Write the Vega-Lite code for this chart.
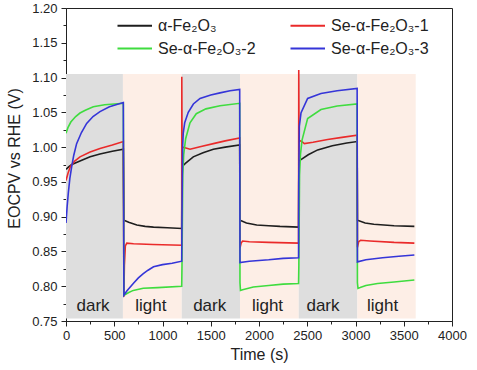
{
  "$schema": "https://vega.github.io/schema/vega-lite/v6.json",
  "width": 386,
  "height": 313,
  "autosize": {"type": "none"},
  "padding": {"left": 66, "top": 8, "right": 25, "bottom": 49},
  "background": "white",
  "config": {
    "font": "Liberation Sans",
    "view": {"stroke": "#222", "strokeWidth": 1},
    "axis": {"domainColor": "#222", "tickColor": "#222", "labelColor": "#222", "titleColor": "#222", "grid": false, "labelFontSize": 13, "titleFontSize": 16, "titleFontWeight": "normal", "domainWidth": 1, "tickWidth": 1, "labelOverlap": false, "labelBound": false}
  },
  "resolve": {"axis": {"x": "independent", "y": "independent"}},
  "datasets": {
    "shade": [
      {"start": 0, "end": 590, "kind": "dark"},
      {"start": 590, "end": 1200, "kind": "light"},
      {"start": 1200, "end": 1803, "kind": "dark"},
      {"start": 1803, "end": 2412, "kind": "light"},
      {"start": 2412, "end": 3019, "kind": "dark"},
      {"start": 3019, "end": 3624, "kind": "light"}
    ],
    "labels": [
      {"t": 280, "label": "dark"},
      {"t": 879, "label": "light"},
      {"t": 1489, "label": "dark"},
      {"t": 2088, "label": "light"},
      {"t": 2663, "label": "dark"},
      {"t": 3280, "label": "light"}
    ],
    "curves": [
      {"s": "α-Fe₂O₃", "t": 0, "v": 0.968}, {"s": "α-Fe₂O₃", "t": 30, "v": 0.972}, {"s": "α-Fe₂O₃", "t": 60, "v": 0.975}, {"s": "α-Fe₂O₃", "t": 145, "v": 0.980}, {"s": "α-Fe₂O₃", "t": 250, "v": 0.986}, {"s": "α-Fe₂O₃", "t": 352, "v": 0.990}, {"s": "α-Fe₂O₃", "t": 480, "v": 0.994}, {"s": "α-Fe₂O₃", "t": 594, "v": 0.997},
      {"s": "α-Fe₂O₃", "t": 600, "v": 0.895}, {"s": "α-Fe₂O₃", "t": 650, "v": 0.892}, {"s": "α-Fe₂O₃", "t": 734, "v": 0.888}, {"s": "α-Fe₂O₃", "t": 820, "v": 0.886}, {"s": "α-Fe₂O₃", "t": 907, "v": 0.885}, {"s": "α-Fe₂O₃", "t": 1050, "v": 0.884}, {"s": "α-Fe₂O₃", "t": 1199, "v": 0.883},
      {"s": "α-Fe₂O₃", "t": 1202, "v": 0.972}, {"s": "α-Fe₂O₃", "t": 1240, "v": 0.977}, {"s": "α-Fe₂O₃", "t": 1319, "v": 0.986}, {"s": "α-Fe₂O₃", "t": 1420, "v": 0.992}, {"s": "α-Fe₂O₃", "t": 1527, "v": 0.997}, {"s": "α-Fe₂O₃", "t": 1650, "v": 1.000}, {"s": "α-Fe₂O₃", "t": 1800, "v": 1.003},
      {"s": "α-Fe₂O₃", "t": 1803, "v": 0.895}, {"s": "α-Fe₂O₃", "t": 1870, "v": 0.891}, {"s": "α-Fe₂O₃", "t": 1976, "v": 0.888}, {"s": "α-Fe₂O₃", "t": 2100, "v": 0.887}, {"s": "α-Fe₂O₃", "t": 2217, "v": 0.886}, {"s": "α-Fe₂O₃", "t": 2410, "v": 0.885},
      {"s": "α-Fe₂O₃", "t": 2413, "v": 0.980}, {"s": "α-Fe₂O₃", "t": 2435, "v": 0.982}, {"s": "α-Fe₂O₃", "t": 2510, "v": 0.989}, {"s": "α-Fe₂O₃", "t": 2608, "v": 0.996}, {"s": "α-Fe₂O₃", "t": 2760, "v": 1.002}, {"s": "α-Fe₂O₃", "t": 2910, "v": 1.006}, {"s": "α-Fe₂O₃", "t": 3017, "v": 1.008},
      {"s": "α-Fe₂O₃", "t": 3020, "v": 0.895}, {"s": "α-Fe₂O₃", "t": 3100, "v": 0.891}, {"s": "α-Fe₂O₃", "t": 3190, "v": 0.889}, {"s": "α-Fe₂O₃", "t": 3400, "v": 0.887}, {"s": "α-Fe₂O₃", "t": 3610, "v": 0.886},

      {"s": "Se-α-Fe₂O₃-1", "t": 0, "v": 0.952}, {"s": "Se-α-Fe₂O₃-1", "t": 20, "v": 0.962}, {"s": "Se-α-Fe₂O₃-1", "t": 45, "v": 0.972}, {"s": "Se-α-Fe₂O₃-1", "t": 90, "v": 0.980}, {"s": "Se-α-Fe₂O₃-1", "t": 145, "v": 0.986}, {"s": "Se-α-Fe₂O₃-1", "t": 250, "v": 0.993}, {"s": "Se-α-Fe₂O₃-1", "t": 352, "v": 0.998}, {"s": "Se-α-Fe₂O₃-1", "t": 480, "v": 1.003}, {"s": "Se-α-Fe₂O₃-1", "t": 594, "v": 1.008},
      {"s": "Se-α-Fe₂O₃-1", "t": 600, "v": 0.785}, {"s": "Se-α-Fe₂O₃-1", "t": 605, "v": 0.830}, {"s": "Se-α-Fe₂O₃-1", "t": 615, "v": 0.858}, {"s": "Se-α-Fe₂O₃-1", "t": 630, "v": 0.862}, {"s": "Se-α-Fe₂O₃-1", "t": 700, "v": 0.861}, {"s": "Se-α-Fe₂O₃-1", "t": 900, "v": 0.860}, {"s": "Se-α-Fe₂O₃-1", "t": 1199, "v": 0.859},
      {"s": "Se-α-Fe₂O₃-1", "t": 1200, "v": 1.101}, {"s": "Se-α-Fe₂O₃-1", "t": 1203, "v": 1.000}, {"s": "Se-α-Fe₂O₃-1", "t": 1233, "v": 0.999}, {"s": "Se-α-Fe₂O₃-1", "t": 1285, "v": 0.997}, {"s": "Se-α-Fe₂O₃-1", "t": 1400, "v": 1.001}, {"s": "Se-α-Fe₂O₃-1", "t": 1527, "v": 1.005}, {"s": "Se-α-Fe₂O₃-1", "t": 1650, "v": 1.009}, {"s": "Se-α-Fe₂O₃-1", "t": 1800, "v": 1.013},
      {"s": "Se-α-Fe₂O₃-1", "t": 1803, "v": 0.855}, {"s": "Se-α-Fe₂O₃-1", "t": 1815, "v": 0.862}, {"s": "Se-α-Fe₂O₃-1", "t": 1830, "v": 0.865}, {"s": "Se-α-Fe₂O₃-1", "t": 1900, "v": 0.864}, {"s": "Se-α-Fe₂O₃-1", "t": 2100, "v": 0.863}, {"s": "Se-α-Fe₂O₃-1", "t": 2410, "v": 0.862},
      {"s": "Se-α-Fe₂O₃-1", "t": 2412, "v": 1.111}, {"s": "Se-α-Fe₂O₃-1", "t": 2415, "v": 1.010}, {"s": "Se-α-Fe₂O₃-1", "t": 2452, "v": 1.007}, {"s": "Se-α-Fe₂O₃-1", "t": 2470, "v": 1.005}, {"s": "Se-α-Fe₂O₃-1", "t": 2560, "v": 1.007}, {"s": "Se-α-Fe₂O₃-1", "t": 2711, "v": 1.011}, {"s": "Se-α-Fe₂O₃-1", "t": 2860, "v": 1.014}, {"s": "Se-α-Fe₂O₃-1", "t": 3017, "v": 1.017},
      {"s": "Se-α-Fe₂O₃-1", "t": 3020, "v": 0.856}, {"s": "Se-α-Fe₂O₃-1", "t": 3033, "v": 0.864}, {"s": "Se-α-Fe₂O₃-1", "t": 3053, "v": 0.866}, {"s": "Se-α-Fe₂O₃-1", "t": 3150, "v": 0.865}, {"s": "Se-α-Fe₂O₃-1", "t": 3400, "v": 0.863}, {"s": "Se-α-Fe₂O₃-1", "t": 3610, "v": 0.862},

      {"s": "Se-α-Fe₂O₃-2", "t": 0, "v": 1.020}, {"s": "Se-α-Fe₂O₃-2", "t": 20, "v": 1.028}, {"s": "Se-α-Fe₂O₃-2", "t": 50, "v": 1.036}, {"s": "Se-α-Fe₂O₃-2", "t": 100, "v": 1.044}, {"s": "Se-α-Fe₂O₃-2", "t": 145, "v": 1.049}, {"s": "Se-α-Fe₂O₃-2", "t": 200, "v": 1.053}, {"s": "Se-α-Fe₂O₃-2", "t": 283, "v": 1.058}, {"s": "Se-α-Fe₂O₃-2", "t": 400, "v": 1.061}, {"s": "Se-α-Fe₂O₃-2", "t": 594, "v": 1.063},
      {"s": "Se-α-Fe₂O₃-2", "t": 600, "v": 0.787}, {"s": "Se-α-Fe₂O₃-2", "t": 650, "v": 0.791}, {"s": "Se-α-Fe₂O₃-2", "t": 697, "v": 0.794}, {"s": "Se-α-Fe₂O₃-2", "t": 800, "v": 0.797}, {"s": "Se-α-Fe₂O₃-2", "t": 950, "v": 0.798}, {"s": "Se-α-Fe₂O₃-2", "t": 1199, "v": 0.800},
      {"s": "Se-α-Fe₂O₃-2", "t": 1202, "v": 0.830}, {"s": "Se-α-Fe₂O₃-2", "t": 1210, "v": 0.960}, {"s": "Se-α-Fe₂O₃-2", "t": 1220, "v": 0.990}, {"s": "Se-α-Fe₂O₃-2", "t": 1240, "v": 1.012}, {"s": "Se-α-Fe₂O₃-2", "t": 1285, "v": 1.035}, {"s": "Se-α-Fe₂O₃-2", "t": 1350, "v": 1.048}, {"s": "Se-α-Fe₂O₃-2", "t": 1450, "v": 1.055}, {"s": "Se-α-Fe₂O₃-2", "t": 1596, "v": 1.0595}, {"s": "Se-α-Fe₂O₃-2", "t": 1800, "v": 1.063},
      {"s": "Se-α-Fe₂O₃-2", "t": 1803, "v": 0.805}, {"s": "Se-α-Fe₂O₃-2", "t": 1808, "v": 0.794}, {"s": "Se-α-Fe₂O₃-2", "t": 1830, "v": 0.795}, {"s": "Se-α-Fe₂O₃-2", "t": 1941, "v": 0.799}, {"s": "Se-α-Fe₂O₃-2", "t": 2100, "v": 0.801}, {"s": "Se-α-Fe₂O₃-2", "t": 2250, "v": 0.803}, {"s": "Se-α-Fe₂O₃-2", "t": 2410, "v": 0.804},
      {"s": "Se-α-Fe₂O₃-2", "t": 2413, "v": 0.830}, {"s": "Se-α-Fe₂O₃-2", "t": 2420, "v": 0.960}, {"s": "Se-α-Fe₂O₃-2", "t": 2430, "v": 0.990}, {"s": "Se-α-Fe₂O₃-2", "t": 2446, "v": 1.010}, {"s": "Se-α-Fe₂O₃-2", "t": 2504, "v": 1.041}, {"s": "Se-α-Fe₂O₃-2", "t": 2642, "v": 1.054}, {"s": "Se-α-Fe₂O₃-2", "t": 2810, "v": 1.059}, {"s": "Se-α-Fe₂O₃-2", "t": 3017, "v": 1.062},
      {"s": "Se-α-Fe₂O₃-2", "t": 3020, "v": 0.805}, {"s": "Se-α-Fe₂O₃-2", "t": 3026, "v": 0.797}, {"s": "Se-α-Fe₂O₃-2", "t": 3048, "v": 0.798}, {"s": "Se-α-Fe₂O₃-2", "t": 3108, "v": 0.801}, {"s": "Se-α-Fe₂O₃-2", "t": 3228, "v": 0.804}, {"s": "Se-α-Fe₂O₃-2", "t": 3400, "v": 0.806}, {"s": "Se-α-Fe₂O₃-2", "t": 3610, "v": 0.809},

      {"s": "Se-α-Fe₂O₃-3", "t": 0, "v": 0.891}, {"s": "Se-α-Fe₂O₃-3", "t": 12, "v": 0.915}, {"s": "Se-α-Fe₂O₃-3", "t": 24, "v": 0.934}, {"s": "Se-α-Fe₂O₃-3", "t": 40, "v": 0.955}, {"s": "Se-α-Fe₂O₃-3", "t": 59, "v": 0.972}, {"s": "Se-α-Fe₂O₃-3", "t": 80, "v": 0.988}, {"s": "Se-α-Fe₂O₃-3", "t": 110, "v": 1.005}, {"s": "Se-α-Fe₂O₃-3", "t": 160, "v": 1.021}, {"s": "Se-α-Fe₂O₃-3", "t": 214, "v": 1.034}, {"s": "Se-α-Fe₂O₃-3", "t": 280, "v": 1.044}, {"s": "Se-α-Fe₂O₃-3", "t": 352, "v": 1.051}, {"s": "Se-α-Fe₂O₃-3", "t": 450, "v": 1.058}, {"s": "Se-α-Fe₂O₃-3", "t": 594, "v": 1.064},
      {"s": "Se-α-Fe₂O₃-3", "t": 600, "v": 0.787}, {"s": "Se-α-Fe₂O₃-3", "t": 630, "v": 0.793}, {"s": "Se-α-Fe₂O₃-3", "t": 697, "v": 0.804}, {"s": "Se-α-Fe₂O₃-3", "t": 750, "v": 0.812}, {"s": "Se-α-Fe₂O₃-3", "t": 801, "v": 0.818}, {"s": "Se-α-Fe₂O₃-3", "t": 850, "v": 0.823}, {"s": "Se-α-Fe₂O₃-3", "t": 907, "v": 0.828}, {"s": "Se-α-Fe₂O₃-3", "t": 1000, "v": 0.831}, {"s": "Se-α-Fe₂O₃-3", "t": 1100, "v": 0.833}, {"s": "Se-α-Fe₂O₃-3", "t": 1199, "v": 0.836},
      {"s": "Se-α-Fe₂O₃-3", "t": 1202, "v": 0.900}, {"s": "Se-α-Fe₂O₃-3", "t": 1208, "v": 1.000}, {"s": "Se-α-Fe₂O₃-3", "t": 1215, "v": 1.020}, {"s": "Se-α-Fe₂O₃-3", "t": 1230, "v": 1.035}, {"s": "Se-α-Fe₂O₃-3", "t": 1267, "v": 1.050}, {"s": "Se-α-Fe₂O₃-3", "t": 1320, "v": 1.062}, {"s": "Se-α-Fe₂O₃-3", "t": 1389, "v": 1.070}, {"s": "Se-α-Fe₂O₃-3", "t": 1500, "v": 1.075}, {"s": "Se-α-Fe₂O₃-3", "t": 1596, "v": 1.078}, {"s": "Se-α-Fe₂O₃-3", "t": 1700, "v": 1.081}, {"s": "Se-α-Fe₂O₃-3", "t": 1800, "v": 1.083},
      {"s": "Se-α-Fe₂O₃-3", "t": 1803, "v": 0.834}, {"s": "Se-α-Fe₂O₃-3", "t": 1900, "v": 0.836}, {"s": "Se-α-Fe₂O₃-3", "t": 2100, "v": 0.838}, {"s": "Se-α-Fe₂O₃-3", "t": 2250, "v": 0.840}, {"s": "Se-α-Fe₂O₃-3", "t": 2410, "v": 0.841},
      {"s": "Se-α-Fe₂O₃-3", "t": 2412, "v": 0.950}, {"s": "Se-α-Fe₂O₃-3", "t": 2418, "v": 1.030}, {"s": "Se-α-Fe₂O₃-3", "t": 2435, "v": 1.049}, {"s": "Se-α-Fe₂O₃-3", "t": 2504, "v": 1.070}, {"s": "Se-α-Fe₂O₃-3", "t": 2642, "v": 1.077}, {"s": "Se-α-Fe₂O₃-3", "t": 2810, "v": 1.081}, {"s": "Se-α-Fe₂O₃-3", "t": 3017, "v": 1.0845},
      {"s": "Se-α-Fe₂O₃-3", "t": 3020, "v": 0.835}, {"s": "Se-α-Fe₂O₃-3", "t": 3108, "v": 0.838}, {"s": "Se-α-Fe₂O₃-3", "t": 3280, "v": 0.841}, {"s": "Se-α-Fe₂O₃-3", "t": 3450, "v": 0.843}, {"s": "Se-α-Fe₂O₃-3", "t": 3610, "v": 0.845}
    ]
  },
  "layer": [
    {
      "data": {"name": "shade"},
      "mark": {"type": "rect"},
      "encoding": {
        "x": {"field": "start", "type": "quantitative", "scale": {"domain": [0, 4000], "nice": false, "zero": false},
          "axis": {"orient": "bottom", "title": "Time (s)", "titlePadding": 4, "labelPadding": 3, "tickSize": 5,
            "values": [0,500,1000,1500,2000,2500,3000,3500,4000], "format": "d", "labelFlush": false}},
        "x2": {"field": "end"},
        "y": {"datum": 0.7535, "type": "quantitative", "scale": {"domain": [0.75, 1.2], "nice": false, "zero": false},
          "axis": {"orient": "left", "title": "EOCPV vs RHE (V)", "titlePadding": 9, "labelPadding": 4, "titleY": 150, "tickSize": 5,
            "values": [0.75,0.8,0.85,0.9,0.95,1.0,1.05,1.1,1.15,1.2], "format": ".2f", "labelFlush": false}},
        "y2": {"datum": 1.105},
        "fill": {"field": "kind", "type": "nominal", "scale": {"domain": ["dark", "light"], "range": ["#dedede", "#fdeee6"]}, "legend": null}
      }
    },
    {
      "data": {"name": "labels"},
      "mark": {"type": "text", "fontSize": 17, "color": "#222", "baseline": "alphabetic", "align": "center"},
      "encoding": {
        "x": {"field": "t", "type": "quantitative",
          "axis": {"orient": "bottom", "title": null, "labels": false, "domain": false, "tickSize": 3,
            "values": [250,750,1250,1750,2250,2750,3250,3750]}},
        "y": {"datum": 0.764, "type": "quantitative",
          "axis": {"orient": "left", "title": null, "labels": false, "domain": false, "tickSize": 3,
            "values": [0.775,0.825,0.875,0.925,0.975,1.025,1.075,1.125,1.175]}},
        "text": {"field": "label"}
      }
    },
    {
      "data": {"name": "curves"},
      "mark": {"type": "line", "strokeWidth": 1.6, "clip": true},
      "encoding": {
        "x": {"field": "t", "type": "quantitative", "axis": null},
        "y": {"field": "v", "type": "quantitative", "axis": null},
        "stroke": {"field": "s", "type": "nominal",
          "scale": {"domain": ["α-Fe₂O₃", "Se-α-Fe₂O₃-1", "Se-α-Fe₂O₃-2", "Se-α-Fe₂O₃-3"], "range": ["#1e1e1e", "#ea2a2a", "#3fdc3f", "#3535d8"]},
          "legend": {"title": null, "orient": "none", "legendX": 62, "legendY": 5, "columns": 2, "direction": "horizontal", "columnPadding": 30, "rowPadding": 2, "padding": 0,
            "symbolType": "M-2,0H1", "symbolSize": 529, "symbolStrokeWidth": 1.8, "labelOffset": 5, "labelFontSize": 16, "labelColor": "#222", "labelLimit": 200}}
      }
    }
  ]
}
